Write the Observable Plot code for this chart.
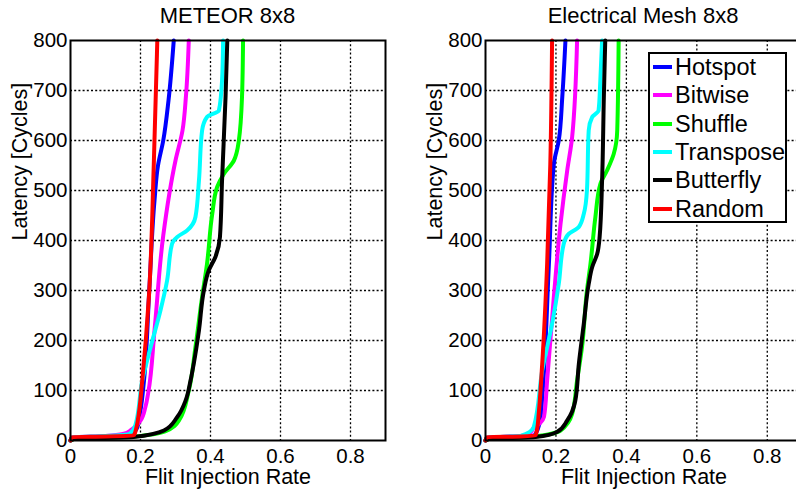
<!DOCTYPE html>
<html><head><meta charset="utf-8">
<script src="https://cdn.jsdelivr.net/npm/d3@7"></script>
<script src="https://cdn.jsdelivr.net/npm/@observablehq/plot@0.6"></script>
<style>
body{margin:0;background:#fff;}
#wrap{position:relative;width:796px;height:491px;overflow:hidden;background:#fff;font-family:"Liberation Sans",Arial,sans-serif;color:#000;}
.panel{position:absolute;top:0;}
.title{position:absolute;top:3px;height:26px;line-height:26px;font-size:22px;text-align:center;white-space:nowrap;}
#legend{position:absolute;left:648px;top:52px;width:135px;height:167px;border:2px solid #000;background:#fff;}
.row{position:absolute;left:0;height:28px;display:flex;align-items:center;font-size:23.5px;white-space:nowrap;}
.sw{display:inline-block;width:19px;height:4px;margin-left:3px;margin-right:3px;}
</style></head>
<body><div id="wrap"></div>
<script>
const seriesNames = ["Hotspot","Bitwise","Shuffle","Transpose","Butterfly","Random"];
const seriesColors = ["#0000ff","#ff00ff","#00ff00","#00ffff","#000000","#ff0000"];
const xTicks = [0,0.2,0.4,0.6,0.8];
const yTicks = [0,100,200,300,400,500,600,700,800];
const panelTitles = ["METEOR 8x8","Electrical Mesh 8x8"];

// METEOR 8x8: [flit injection rate, latency]
const meteorHotspot = [[0,0],[0.005,6],[0.1,8],[0.17,11],[0.19,25],[0.2,60],[0.21,120],[0.225,300],[0.24,480],[0.25,550],[0.265,600],[0.28,680],[0.295,800]];
const meteorBitwise = [[0,0],[0.005,6],[0.1,9],[0.15,13],[0.175,22],[0.2,40],[0.214,67],[0.222,95],[0.24,220],[0.265,410],[0.3,560],[0.32,620],[0.33,690],[0.338,800]];
const meteorShuffle = [[0,0],[0.01,3],[0.18,8],[0.27,18],[0.31,40],[0.338,100],[0.357,187],[0.376,287],[0.39,353],[0.405,453],[0.419,507],[0.438,533],[0.467,560],[0.481,600],[0.49,687],[0.493,800]];
const meteorTranspose = [[0,0],[0.005,6],[0.1,9],[0.17,14],[0.185,30],[0.205,120],[0.229,187],[0.257,260],[0.276,320],[0.29,393],[0.305,407],[0.333,420],[0.357,447],[0.367,520],[0.376,620],[0.39,647],[0.424,660],[0.433,720],[0.436,800]];
const meteorButterfly = [[0,0],[0.01,3],[0.18,7],[0.267,20],[0.305,47],[0.329,80],[0.343,120],[0.352,153],[0.367,220],[0.381,300],[0.395,340],[0.414,367],[0.427,407],[0.433,520],[0.443,687],[0.448,800]];
const meteorRandom = [[0,0],[0.005,7],[0.1,8],[0.181,10],[0.188,25],[0.195,53],[0.205,120],[0.224,287],[0.238,553],[0.248,800]];

// Electrical Mesh 8x8
const meshHotspot = [[0,0],[0.005,6],[0.1,8],[0.14,11],[0.155,40],[0.161,87],[0.18,353],[0.194,553],[0.208,600],[0.218,687],[0.227,800]];
const meshBitwise = [[0,0],[0.005,6],[0.1,9],[0.123,13],[0.137,25],[0.155,35],[0.166,47],[0.175,120],[0.194,287],[0.213,433],[0.232,540],[0.246,607],[0.26,800]];
const meshShuffle = [[0,0],[0.01,3],[0.14,8],[0.213,20],[0.246,53],[0.26,120],[0.274,187],[0.288,300],[0.298,353],[0.312,447],[0.326,513],[0.345,540],[0.364,573],[0.374,620],[0.378,800]];
const meshTranspose = [[0,0],[0.005,6],[0.1,9],[0.137,27],[0.161,140],[0.189,233],[0.208,313],[0.222,393],[0.236,413],[0.265,427],[0.279,453],[0.288,500],[0.293,620],[0.303,647],[0.321,660],[0.326,720],[0.331,800]];
const meshButterfly = [[0,0],[0.01,3],[0.142,7],[0.203,17],[0.232,40],[0.255,80],[0.265,153],[0.279,233],[0.293,313],[0.303,347],[0.317,373],[0.324,407],[0.331,520],[0.336,687],[0.34,800]];
const meshRandom = [[0,0],[0.005,7],[0.1,8],[0.142,10],[0.147,25],[0.151,53],[0.161,153],[0.175,353],[0.184,553],[0.189,800]];

const meteorSeries = [meteorHotspot,meteorBitwise,meteorShuffle,meteorTranspose,meteorButterfly,meteorRandom];
const meshSeries = [meshHotspot,meshBitwise,meshShuffle,meshTranspose,meshButterfly,meshRandom];

const wrap = document.getElementById("wrap");

function makePanel(series, width, marginRight) {
  const dotted = {stroke:"#000", strokeOpacity:1, strokeWidth:1.3, strokeDasharray:"2,2.2"};
  const marks = [
    Plot.gridX(xTicks.filter(d => d > 0), dotted),
    Plot.gridY(yTicks.filter(d => d > 0 && d < 800), dotted),
    Plot.axisX({ticks: xTicks, tickSize: 0, tickPadding: 8, tickFormat: d => d === 0 ? "0" : d3.format(".1f")(d), label: null}),
    Plot.axisY({ticks: yTicks, tickSize: 0, tickPadding: 3, label: null}),
    Plot.text(["Flit Injection Rate"], {text: d => d, frameAnchor: "bottom", dy: 37, lineAnchor: "middle", fontSize: 21.5}),
    Plot.text(["Latency [Cycles]"], {text: d => d, frameAnchor: "left", dx: -50, rotate: -90, lineAnchor: "middle", fontSize: 21.5})
  ];
  series.forEach((s, i) => {
    marks.push(Plot.line(s, {x: d => d[0], y: d => d[1], curve: "monotone-y", stroke: seriesColors[i], strokeWidth: 4, strokeLinejoin: "round", strokeLinecap: "round"}));
  });
  marks.push(Plot.frame({stroke: "#000", strokeWidth: 2}));
  return Plot.plot({
    width, height: 491,
    marginTop: 40, marginBottom: 51, marginLeft: 70, marginRight,
    style: {fontFamily: '"Liberation Sans", Arial, sans-serif', fontSize: "20.5px", color: "#000", background: "transparent", overflow: "visible"},
    x: {domain: [0, 0.9]},
    y: {domain: [0, 800]},
    marks
  });
}

const left = makePanel(meteorSeries, 400, 15);
left.classList.add("panel");
left.style.left = "0px";
wrap.appendChild(left);

const right = makePanel(meshSeries, 400, 13);
right.classList.add("panel");
right.style.left = "415px";
wrap.appendChild(right);

[[panelTitles[0], 227.5], [panelTitles[1], 643]].forEach(([t, cx]) => {
  const d = document.createElement("div");
  d.className = "title";
  d.textContent = t;
  d.style.left = (cx - 150) + "px";
  d.style.width = "300px";
  wrap.appendChild(d);
});

const legend = document.createElement("div");
legend.id = "legend";
const rowCenters = [13, 41, 70, 98, 126, 155];
seriesNames.forEach((name, i) => {
  const r = document.createElement("div");
  r.className = "row";
  r.style.top = (rowCenters[i] - 14) + "px";
  const sw = document.createElement("span");
  sw.className = "sw";
  sw.style.background = seriesColors[i];
  const tx = document.createElement("span");
  tx.textContent = name;
  r.appendChild(sw); r.appendChild(tx);
  legend.appendChild(r);
});
wrap.appendChild(legend);
</script>
</body></html>
